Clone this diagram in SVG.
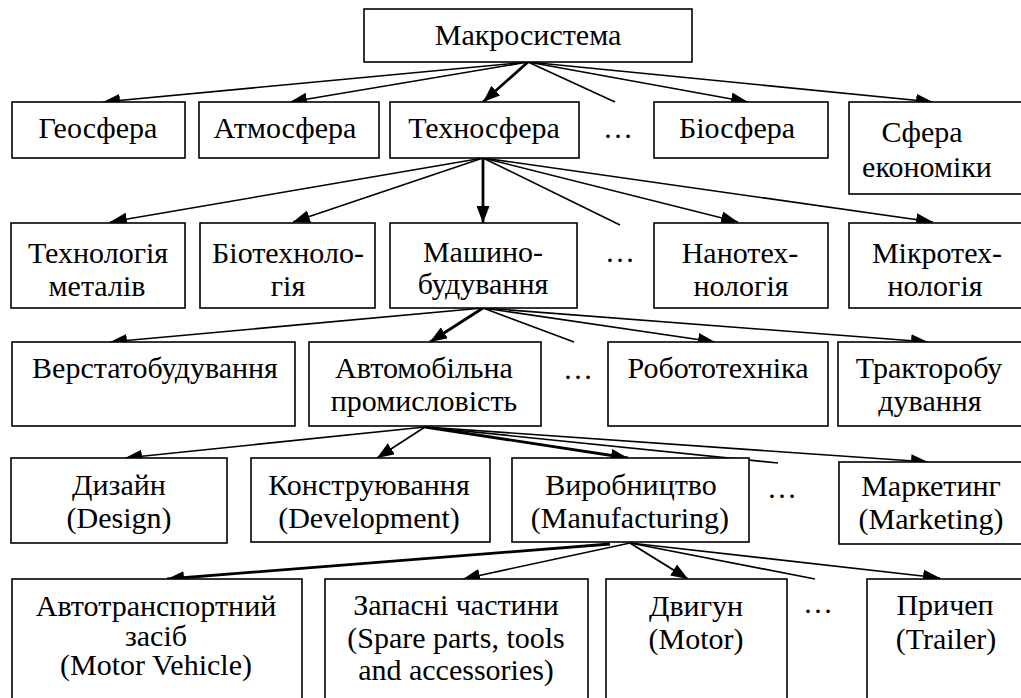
<svg xmlns="http://www.w3.org/2000/svg" width="1021" height="698" viewBox="0 0 1021 698">
<style>
.box{fill:#fff;stroke:#000;stroke-width:1.6}
.lbl{font-family:"Liberation Serif","Times New Roman",serif;font-size:30px;fill:#000;text-anchor:middle}
.c line{stroke:#000;stroke-width:1.6}
.c line.t{stroke-width:2.8}
.c line.m{stroke-width:2}
</style>
<defs>
<marker id="a" markerUnits="userSpaceOnUse" markerWidth="17" markerHeight="13" viewBox="0 0 17 13" refX="17" refY="6.5" orient="auto">
<path d="M0,0 L17,6.5 L0,13 z" fill="#000"/>
</marker>
</defs>
<rect x="0" y="0" width="1021" height="698" fill="#fff"/>
<g class="c" id="connectors">
<line x1="528" y1="62" x2="103" y2="102" marker-end="url(#a)"/>
<line x1="528" y1="62" x2="290" y2="102" marker-end="url(#a)"/>
<line class="t" x1="528" y1="62" x2="483" y2="102" marker-end="url(#a)"/>
<line x1="528" y1="62" x2="615" y2="102"/>
<line x1="528" y1="62" x2="748" y2="102" marker-end="url(#a)"/>
<line x1="528" y1="62" x2="933" y2="102" marker-end="url(#a)"/>
<line x1="483" y1="158" x2="110" y2="222" marker-end="url(#a)"/>
<line x1="483" y1="158" x2="293" y2="222" marker-end="url(#a)"/>
<line class="t" x1="483" y1="158" x2="483" y2="223" marker-end="url(#a)"/>
<line x1="483" y1="158" x2="620" y2="225"/>
<line x1="483" y1="158" x2="738" y2="222" marker-end="url(#a)"/>
<line x1="483" y1="158" x2="933" y2="222" marker-end="url(#a)"/>
<line x1="483" y1="308" x2="110" y2="342" marker-end="url(#a)"/>
<line class="t" x1="483" y1="308" x2="430" y2="342" marker-end="url(#a)"/>
<line x1="483" y1="308" x2="574" y2="342"/>
<line x1="483" y1="308" x2="715" y2="342" marker-end="url(#a)"/>
<line x1="483" y1="308" x2="928" y2="342" marker-end="url(#a)"/>
<line x1="425" y1="427" x2="125" y2="458" marker-end="url(#a)"/>
<line x1="425" y1="427" x2="377" y2="458" marker-end="url(#a)"/>
<line class="t" x1="425" y1="427" x2="628" y2="458" marker-end="url(#a)"/>
<line x1="425" y1="427" x2="778" y2="463"/>
<line x1="425" y1="427" x2="928" y2="462" marker-end="url(#a)"/>
<line class="t" x1="610" y1="544" x2="167" y2="579" marker-end="url(#a)"/>
<line x1="630" y1="543" x2="463" y2="579" marker-end="url(#a)"/>
<line class="m" x1="630" y1="543" x2="688" y2="579" marker-end="url(#a)"/>
<line x1="630" y1="543" x2="815" y2="579"/>
<line x1="630" y1="543" x2="940" y2="578" marker-end="url(#a)"/>
</g>

<g id="n-macro"><rect class="box" x="364" y="9" width="328" height="53"/><text class="lbl" x="528" y="45">Макросистема</text></g>
<g id="n-geo"><rect class="box" x="12" y="102" width="173" height="56"/><text class="lbl" x="98" y="138">Геосфера</text></g>
<g id="n-atmo"><rect class="box" x="199" y="102" width="180" height="56"/><text class="lbl" x="285" y="138">Атмосфера</text></g>
<g id="n-techno"><rect class="box" x="390" y="102" width="189" height="56"/><text class="lbl" x="484" y="138">Техносфера</text></g>
<g id="n-dots1"><text class="lbl" x="618" y="138">…</text></g>
<g id="n-bio"><rect class="box" x="654" y="102" width="174" height="56"/><text class="lbl" x="737" y="138">Біосфера</text></g>
<g id="n-econ"><rect class="box" x="849" y="102" width="180" height="92"/><text class="lbl" x="922" y="142">Сфера</text><text class="lbl" x="927" y="177">економіки</text></g>
<g id="n-metal"><rect class="box" x="11" y="223" width="174" height="85"/><text class="lbl" x="98" y="263">Технологія</text><text class="lbl" x="97" y="296">металів</text></g>
<g id="n-biotech"><rect class="box" x="200" y="223" width="175" height="85"/><text class="lbl" x="288" y="263">Біотехноло-</text><text class="lbl" x="288" y="296">гія</text></g>
<g id="n-mach"><rect class="box" x="390" y="223" width="187" height="85"/><text class="lbl" x="483" y="262">Машино-</text><text class="lbl" x="483" y="294">будування</text></g>
<g id="n-dots2"><text class="lbl" x="620" y="262">…</text></g>
<g id="n-nano"><rect class="box" x="654" y="223" width="174" height="85"/><text class="lbl" x="740" y="263">Нанотех-</text><text class="lbl" x="741" y="296">нологія</text></g>
<g id="n-micro"><rect class="box" x="849" y="223" width="180" height="85"/><text class="lbl" x="937" y="263">Мікротех-</text><text class="lbl" x="935" y="296">нологія</text></g>
<g id="n-machtool"><rect class="box" x="12" y="342" width="283" height="84"/><text class="lbl" x="155" y="378">Верстатобудування</text></g>
<g id="n-auto"><rect class="box" x="309" y="342" width="232" height="84"/><text class="lbl" x="424" y="378">Автомобільна</text><text class="lbl" x="424" y="411">промисловість</text></g>
<g id="n-dots3"><text class="lbl" x="578" y="379">…</text></g>
<g id="n-robot"><rect class="box" x="608" y="342" width="220" height="84"/><text class="lbl" x="718" y="378">Робототехніка</text></g>
<g id="n-tractor"><rect class="box" x="838" y="342" width="191" height="84"/><text class="lbl" x="929" y="378">Тракторобу</text><text class="lbl" x="930" y="411">дування</text></g>
<g id="n-design"><rect class="box" x="11" y="458" width="216" height="85"/><text class="lbl" x="119" y="495">Дизайн</text><text class="lbl" x="119" y="528">(Design)</text></g>
<g id="n-dev"><rect class="box" x="251" y="458" width="239" height="84"/><text class="lbl" x="369" y="495">Конструювання</text><text class="lbl" x="369" y="528">(Development)</text></g>
<g id="n-manuf"><rect class="box" x="512" y="458" width="237" height="84"/><text class="lbl" x="631" y="495">Виробництво</text><text class="lbl" x="630" y="528">(Manufacturing)</text></g>
<g id="n-dots4"><text class="lbl" x="782" y="498">…</text></g>
<g id="n-market"><rect class="box" x="839" y="462" width="190" height="82"/><text class="lbl" x="931" y="496">Маркетинг</text><text class="lbl" x="931" y="529">(Marketing)</text></g>
<g id="n-vehicle"><rect class="box" x="12" y="579" width="290" height="130"/><text class="lbl" x="156" y="616">Автотранспортний</text><text class="lbl" x="156" y="646">засіб</text><text class="lbl" x="156" y="675">(Motor Vehicle)</text></g>
<g id="n-spare"><rect class="box" x="325" y="579" width="263" height="130"/><text class="lbl" x="456" y="615">Запасні частини</text><text class="lbl" x="456" y="648">(Spare parts, tools</text><text class="lbl" x="456" y="680">and accessories)</text></g>
<g id="n-motor"><rect class="box" x="606" y="579" width="181" height="130"/><text class="lbl" x="696" y="616">Двигун</text><text class="lbl" x="696" y="649">(Motor)</text></g>
<g id="n-dots5"><text class="lbl" x="818" y="613">…</text></g>
<g id="n-trailer"><rect class="box" x="867" y="579" width="162" height="130"/><text class="lbl" x="945" y="615">Причеп</text><text class="lbl" x="946" y="649">(Trailer)</text></g>
</svg>
